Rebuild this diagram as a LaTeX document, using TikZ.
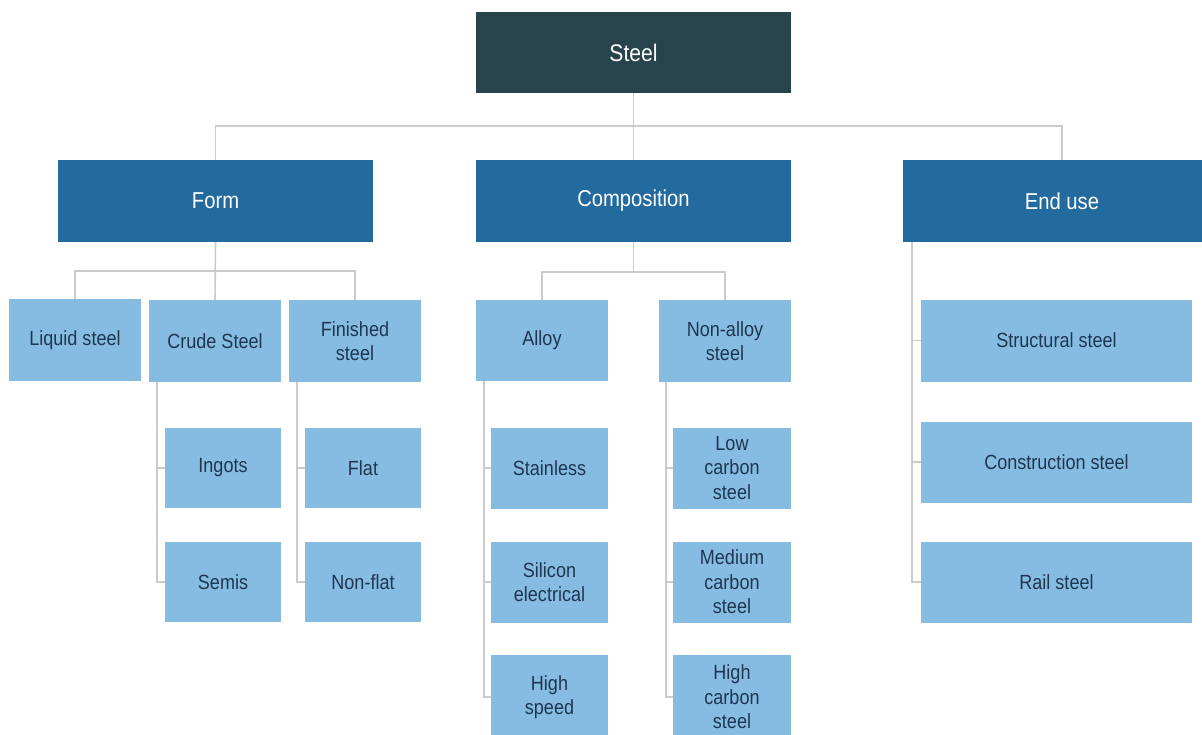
\documentclass[tikz,border=0pt]{standalone}
\usepackage{fontspec}
\setmainfont{Liberation Sans}[FakeStretch=0.88]
\definecolor{topc}{HTML}{27434C}
\definecolor{midc}{HTML}{236A9F}
\definecolor{leafc}{HTML}{86BCE2}
\definecolor{leaftxt}{HTML}{1E3652}
\definecolor{linec}{HTML}{CBCBCB}
\tikzset{
  base/.style={rectangle, inner sep=0pt, align=center, draw=none},
  topbox/.style={base, fill=topc, text=white, minimum width=315pt, minimum height=81pt, font=\fontsize{24}{28}\selectfont},
  midbox/.style={base, fill=midc, text=white, minimum height=82pt, font=\fontsize{23}{27}\selectfont},
  leaf/.style={base, fill=leafc, text=leaftxt, font=\fontsize{20.5}{24.5}\selectfont},
  conn/.style={draw=linec, line width=1.6pt}
}
\begin{document}
\begin{tikzpicture}[x=1pt,y=-1pt]
\useasboundingbox[fill=white] (0,0) rectangle (1202,734);
% top
\node[topbox] (steel) at (633.5,52.5) {Steel};
% level 1
\node[midbox, minimum width=315pt] (form) at (215.5,201) {Form};
\node[midbox, minimum width=315pt] (comp) at (633.5,201) {Composition};
\node[midbox, minimum width=318pt] (enduse) at (1062,201) {End use};
% form children
\node[leaf, minimum width=132pt, minimum height=82pt] (liquid) at (75,340) {Liquid steel};
\node[leaf, minimum width=132pt, minimum height=82pt] (crude) at (215,341) {Crude Steel};
\node[leaf, minimum width=132pt, minimum height=82pt] (finished) at (355,341) {Finished\\steel};
\node[leaf, minimum width=116pt, minimum height=80pt] (ingots) at (223,468) {Ingots};
\node[leaf, minimum width=116pt, minimum height=80pt] (semis) at (223,582) {Semis};
\node[leaf, minimum width=116pt, minimum height=80pt] (flat) at (363,468) {Flat};
\node[leaf, minimum width=116pt, minimum height=80pt] (nonflat) at (363,582) {Non-flat};
% composition children
\node[leaf, minimum width=132pt, minimum height=81pt] (alloy) at (542,340.5) {Alloy};
\node[leaf, minimum width=132pt, minimum height=82pt] (nonalloy) at (725,341) {Non-alloy\\steel};
\node[leaf, minimum width=117pt, minimum height=81pt] (stainless) at (549.5,468) {Stainless};
\node[leaf, minimum width=117pt, minimum height=81pt] (silicon) at (549.5,582) {Silicon\\electrical};
\node[leaf, minimum width=117pt, minimum height=84pt] (highspeed) at (549.5,697) {High\\speed};
\node[leaf, minimum width=118pt, minimum height=81pt] (lowc) at (732,468) {Low\\carbon\\steel};
\node[leaf, minimum width=118pt, minimum height=81pt] (medc) at (732,582) {Medium\\carbon\\steel};
\node[leaf, minimum width=118pt, minimum height=84pt] (highc) at (732,697) {High\\carbon\\steel};
% end use children
\node[leaf, minimum width=271pt, minimum height=82pt] (structural) at (1056.5,340.5) {Structural steel};
\node[leaf, minimum width=271pt, minimum height=81pt] (construction) at (1056.5,462) {Construction steel};
\node[leaf, minimum width=271pt, minimum height=81pt] (rail) at (1056.5,582) {Rail steel};
% connectors level 0 -> 1
\draw[conn] (steel.south) -- (comp.north);
\draw[conn] (form.north) -- ++(0,-34) -| (enduse.north);
% form
\draw[conn] (form.south) -- (crude.north);
\draw[conn] (liquid.north) -- ++(0,-28) -| (finished.north);
\draw[conn] ([xshift=8pt]crude.south west) |- (semis.west);
\draw[conn] ([xshift=8pt]crude.south west) |- (ingots.west);
\draw[conn] ([xshift=8pt]finished.south west) |- (nonflat.west);
\draw[conn] ([xshift=8pt]finished.south west) |- (flat.west);
% composition
\draw[conn] (comp.south) -- ++(0,30);
\draw[conn] (alloy.north) -- ++(0,-28) -| (nonalloy.north);
\draw[conn] ([xshift=8pt]alloy.south west) |- (highspeed.west);
\draw[conn] ([xshift=8pt]alloy.south west) |- (silicon.west);
\draw[conn] ([xshift=8pt]alloy.south west) |- (stainless.west);
\draw[conn] ([xshift=7pt]nonalloy.south west) |- (highc.west);
\draw[conn] ([xshift=7pt]nonalloy.south west) |- (medc.west);
\draw[conn] ([xshift=7pt]nonalloy.south west) |- (lowc.west);
% end use
\draw[conn] ([xshift=9pt]enduse.south west) |- (rail.west);
\draw[conn] ([xshift=9pt]enduse.south west) |- (construction.west);
\draw[conn] ([xshift=9pt]enduse.south west) |- (structural.west);
\end{tikzpicture}
\end{document}
